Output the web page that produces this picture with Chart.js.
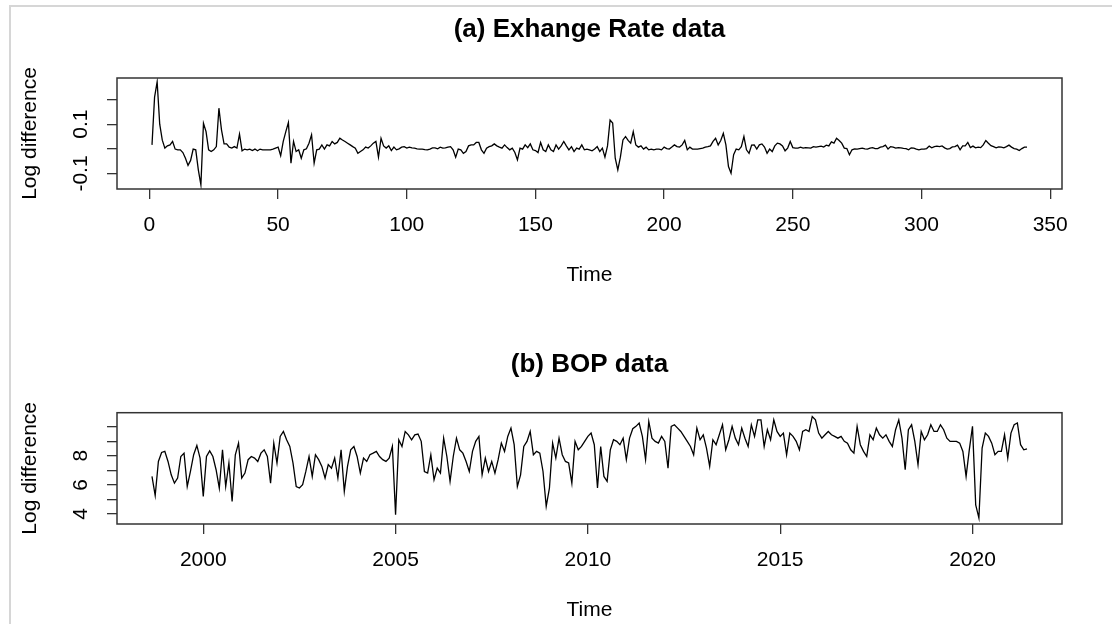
<!DOCTYPE html>
<html>
<head>
<meta charset="utf-8">
<title>Exchange rate and BOP</title>
<script src="https://cdn.jsdelivr.net/npm/chart.js@4.4.1/dist/chart.umd.min.js"></script>
<style>
  html, body { margin: 0; padding: 0; background: #fff; }
  #page { position: relative; width: 1112px; height: 624px; overflow: hidden; background: #fff; }
  #edge { position: absolute; left: 9px; top: 5px; width: 1200px; height: 700px;
          border-left: 2px solid #d6d6d6; border-top: 2px solid #d6d6d6; }
  canvas { position: absolute; left: 0; }
</style>
</head>
<body>
<div id="page">
  <div id="edge"></div>
  <canvas id="rateChart" width="1112" height="312" style="top:0"></canvas>
  <canvas id="bopChart" width="1112" height="312" style="top:312px"></canvas>
</div>
<script>
// (a) log difference of the exchange rate, observations 1..341
var rateValues = [
  0.016, 0.21, 0.272, 0.10, 0.035, 0.003, 0.012, 0.016, 0.030, -0.001, -0.004, -0.004, -0.015, -0.038, -0.067, -0.047, -0.001, -0.004, -0.085, -0.146,
  0.104, 0.070, -0.004, -0.011, -0.004, 0.009, 0.165, 0.077, 0.020, 0.020, 0.007, 0.003, 0.009, 0.003, 0.060, -0.008, -0.001, -0.004, -0.001, -0.007,
  -0.001, -0.008, -0.001, -0.004, -0.004, -0.004, -0.004, -0.001, 0.003, 0.007, -0.028, 0.030, 0.070, 0.107, -0.058, 0.030, -0.011, -0.004, -0.038, -0.004,
  0.000, 0.023, 0.057, -0.058, -0.004, -0.001, 0.016, -0.001, 0.016, 0.012, 0.030, 0.020, 0.026, 0.043, 0.036, 0.030, 0.023, 0.016, 0.009, 0.003,
  -0.018, -0.011, -0.004, 0.007, 0.003, 0.012, 0.023, 0.030, -0.034, 0.043, 0.012, 0.003, 0.012, -0.007, 0.007, -0.004, 0.000, 0.007, 0.009, 0.003,
  0.007, 0.004, 0.003, 0.000, -0.001, -0.001, -0.003, -0.004, -0.001, 0.004, 0.004, 0.000, 0.007, 0.003, 0.004, 0.007, 0.009, -0.004, -0.034, -0.001, -0.004,
  -0.018, -0.011, 0.012, 0.016, 0.016, 0.026, 0.026, -0.004, -0.018, 0.003, 0.009, 0.012, 0.020, 0.012, 0.007, 0.003, 0.016, 0.005, -0.004, 0.003,
  -0.015, -0.045, 0.003, -0.001, 0.016, 0.005, 0.020, -0.004, -0.007, -0.015, 0.026, -0.004, -0.011, 0.016, -0.004, -0.011, 0.016, -0.001, 0.012, 0.030,
  0.012, -0.004, 0.009, -0.011, 0.003, -0.001, 0.016, -0.004, -0.001, -0.004, -0.008, -0.001, 0.009, -0.011, 0.003, -0.034, 0.012, 0.117, 0.105, -0.038,
  -0.085, -0.034, 0.036, 0.050, 0.034, 0.023, 0.070, 0.016, 0.007, 0.012, -0.001, 0.007, -0.004, -0.001, -0.004, -0.001, -0.001, -0.004, 0.007, 0.001,
  -0.001, 0.007, 0.016, 0.009, 0.007, 0.016, 0.034, -0.004, 0.007, -0.001, -0.001, -0.001, 0.001, 0.003, 0.007, 0.009, 0.012, 0.030, 0.043, 0.016,
  0.034, 0.063, 0.016, -0.072, -0.099, -0.024, -0.001, -0.004, 0.009, 0.050, -0.004, -0.018, 0.015, 0.016, -0.001, 0.016, 0.020, 0.007, -0.018, -0.001,
  -0.011, 0.012, 0.023, 0.020, 0.012, -0.008, 0.003, 0.030, 0.005, 0.003, 0.003, 0.007, 0.003, 0.005, 0.004, 0.003, 0.009, 0.007, 0.009, 0.011,
  0.007, 0.015, 0.012, 0.028, 0.023, 0.043, 0.034, 0.023, 0.003, 0.001, -0.024, -0.004, 0.000, -0.001, 0.001, 0.003, 0.000, -0.001, 0.003, 0.005,
  0.001, 0.001, 0.007, 0.009, 0.015, -0.001, 0.009, 0.007, 0.003, 0.005, 0.004, 0.002, 0.001, -0.004, 0.004, 0.003, -0.001, -0.004, -0.001, -0.001, 0.001,
  0.011, 0.004, 0.009, 0.011, 0.009, 0.012, 0.004, -0.001, 0.001, 0.008, 0.009, 0.015, -0.004, 0.012, 0.012, 0.026, 0.005, 0.011, 0.004, 0.007,
  0.005, 0.016, 0.034, 0.023, 0.013, 0.009, 0.004, 0.008, 0.007, 0.004, 0.009, 0.015, 0.007, 0.001, -0.001, -0.007, 0.001, 0.007, 0.007
];

// (b) BOP series, monthly from September 1998
var bopStart = 1998 + 8 / 12;
var bopValues = [
  6.58, 5.27, 7.61, 8.23, 8.30, 7.61, 6.69, 6.12, 6.47, 7.95, 8.18, 5.89, 6.92, 8.07, 8.71, 7.84, 5.21, 7.95, 8.34, 7.95,
  7.04, 5.78, 8.41, 5.89, 7.50, 4.86, 8.07, 8.87, 6.47, 6.81, 7.73, 7.95, 7.84, 7.61, 8.18, 8.41, 7.95, 6.12, 8.87, 7.50,
  9.33, 9.67, 9.10, 8.64, 7.50, 5.89, 5.78, 6.01, 6.92, 7.95, 6.58, 8.07, 7.73, 7.27, 6.47, 7.39, 7.15, 7.84, 6.47, 8.41,
  5.55, 7.27, 8.41, 8.64, 7.95, 6.81, 7.84, 7.61, 8.07, 8.18, 8.30, 7.95, 7.73, 7.61, 7.84, 8.64, 3.94, 9.10, 8.64, 9.67,
  9.44, 9.10, 9.44, 9.49, 8.99, 6.92, 6.81, 8.07, 6.35, 7.15, 6.81, 9.21, 7.95, 6.24, 7.95, 9.21, 8.41, 8.18, 7.61, 6.92,
  8.30, 8.99, 9.33, 6.69, 7.84, 6.92, 7.61, 6.81, 7.73, 8.87, 8.30, 9.33, 9.90, 8.76, 5.89, 6.69, 8.64, 8.99, 9.67, 8.07,
  8.30, 8.18, 6.92, 4.52, 5.78, 8.87, 7.84, 9.21, 8.07, 7.61, 7.50, 6.12, 8.99, 8.41, 8.64, 8.99, 9.33, 9.56, 8.76, 5.78,
  8.64, 6.58, 6.24, 8.41, 9.10, 8.99, 8.76, 9.21, 7.73, 9.21, 9.86, 10.02, 10.25, 9.33, 7.73, 10.36, 9.21, 8.99, 8.87, 9.33,
  8.99, 7.15, 10.02, 10.13, 9.90, 9.67, 9.33, 8.99, 8.64, 8.07, 9.90, 9.10, 9.44, 8.53, 7.27, 9.10, 8.76, 9.44, 10.13, 8.41,
  9.10, 10.02, 9.21, 8.76, 9.90, 9.21, 8.64, 10.13, 9.33, 10.47, 10.47, 8.64, 9.79, 9.10, 10.47, 9.67, 9.33, 9.56, 8.07, 9.56,
  9.33, 8.99, 8.41, 9.67, 9.79, 9.67, 10.70, 10.47, 9.56, 9.21, 9.44, 9.67, 9.44, 9.33, 9.21, 9.33, 8.99, 8.87, 8.41, 8.18,
  10.02, 8.76, 8.30, 7.95, 9.44, 9.10, 9.90, 9.44, 9.21, 9.44, 8.99, 8.64, 9.79, 10.47, 9.21, 7.04, 9.79, 10.13, 8.99, 7.39,
  9.67, 9.10, 9.44, 10.13, 9.67, 9.67, 10.13, 9.79, 9.21, 8.99, 8.99, 8.99, 8.87, 8.30, 6.58, 8.41, 10.02, 4.63, 3.72, 8.53,
  9.56, 9.33, 8.87, 8.07, 8.30, 8.30, 9.44, 7.84, 9.56, 10.13, 10.25, 8.76, 8.41, 8.48
];

// axis ticks and the labels that are printed
var rateXTicks = [0, 50, 100, 150, 200, 250, 300, 350];
var rateYTicks = [-0.1, 0, 0.1, 0.2];
var rateYLabels = [-0.1, 0.1];
var bopXTicks = [2000, 2005, 2010, 2015, 2020];
var bopYTicks = [4, 5, 6, 7, 8, 9, 10];
var bopYLabels = [4, 6, 8];

var FONT = '"Liberation Sans", Arial, sans-serif';
var INK = '#333333';
Chart.defaults.font.family = FONT;
Chart.defaults.color = '#000';

// box round the plot region, titles and rotated y labels
var rStyle = {
  id: 'rStyle',
  afterDraw: function (chart, args, opts) {
    var ctx = chart.ctx, a = chart.chartArea;
    var cx = (a.left + a.right) / 2;
    ctx.save();
    ctx.strokeStyle = INK;
    ctx.lineWidth = 1.5;
    ctx.strokeRect(a.left, a.top, a.right - a.left, a.bottom - a.top);

    ctx.fillStyle = '#000';
    ctx.textAlign = 'center';
    ctx.textBaseline = 'middle';
    ctx.font = 'bold 26px ' + FONT;
    ctx.fillText(opts.title, cx, a.top - 48);

    ctx.font = '21px ' + FONT;
    ctx.fillText('Time', cx, a.bottom + 86);

    var ys = chart.scales.y;
    opts.yLabels.forEach(function (v) {
      ctx.save();
      ctx.translate(a.left - 36, ys.getPixelForValue(v));
      ctx.rotate(-Math.PI / 2);
      ctx.fillText(String(v), 0, 0);
      ctx.restore();
    });

    ctx.translate(a.left - 87, (a.top + a.bottom) / 2);
    ctx.rotate(-Math.PI / 2);
    ctx.fillText('Log difference', 0, 0);
    ctx.restore();
  }
};

function fixedTicks(vals) {
  return function (scale) {
    scale.ticks = vals.map(function (v) { return { value: v }; });
  };
}

function rChart(id, points, xr, yr, xTicks, yTicks, top, bottom, title, yLabels) {
  var H = 312;
  return new Chart(document.getElementById(id), {
    type: 'line',
    data: {
      datasets: [{
        data: points,
        borderColor: '#000',
        borderWidth: 1.3,
        pointRadius: 0,
        tension: 0,
        fill: false
      }]
    },
    options: {
      responsive: false,
      animation: false,
      devicePixelRatio: 1,
      layout: { padding: { left: 0, right: 1112 - 1062, top: top, bottom: 0 } },
      plugins: {
        legend: { display: false },
        tooltip: { enabled: false },
        rStyle: { title: title, yLabels: yLabels }
      },
      scales: {
        x: {
          type: 'linear',
          min: xr[0], max: xr[1],
          afterBuildTicks: fixedTicks(xTicks),
          afterFit: function (s) { s.height = H - bottom; },
          border: { display: false },
          grid: { drawOnChartArea: false, tickLength: 10, color: INK, lineWidth: 1.3 },
          ticks: {
            autoSkip: false, maxRotation: 0, padding: 14,
            font: { size: 21 }, color: '#000',
            callback: function (v) { return String(v); }
          }
        },
        y: {
          type: 'linear',
          min: yr[0], max: yr[1],
          afterBuildTicks: fixedTicks(yTicks),
          afterFit: function (s) { s.width = 117; },
          border: { display: false },
          grid: { drawOnChartArea: false, tickLength: 10, color: INK, lineWidth: 1.3 },
          ticks: { display: false }
        }
      }
    },
    plugins: [rStyle]
  });
}

var ratePoints = rateValues.map(function (v, i) { return { x: i + 1, y: v }; });
var bopPoints = bopValues.map(function (v, i) { return { x: bopStart + i / 12, y: v }; });

rChart('rateChart', ratePoints, [-12.6, 354.6], [-0.163, 0.2875],
  rateXTicks, rateYTicks, 78, 189, '(a) Exhange Rate data', rateYLabels);
rChart('bopChart', bopPoints, [1997.757, 2022.327], [3.31, 10.96],
  bopXTicks, bopYTicks, 100.7, 212, '(b) BOP data', bopYLabels);
</script>
</body>
</html>
